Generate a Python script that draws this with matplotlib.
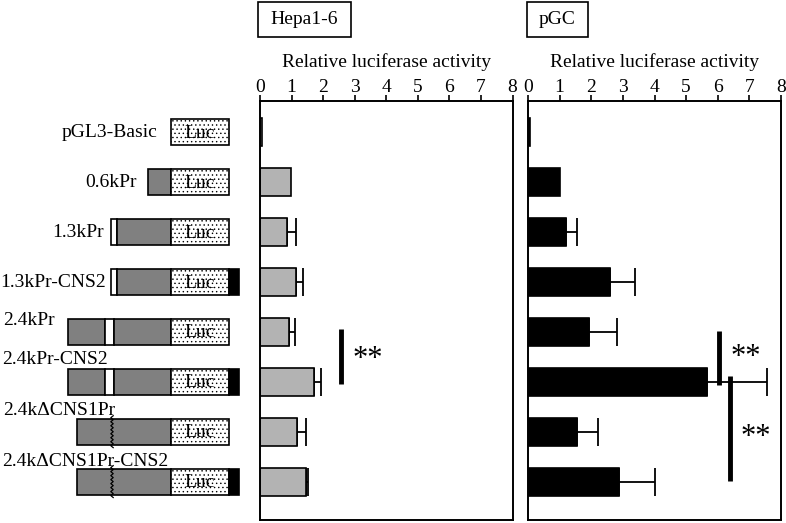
import numpy as np
import matplotlib
matplotlib.use("Agg")
import matplotlib.pyplot as plt
from matplotlib.patches import Rectangle

plt.rcParams['font.family'] = ['Liberation Serif', 'DejaVu Serif']
plt.rcParams['hatch.linewidth'] = 0.5
plt.rcParams['hatch.color'] = '#6a6a6a'

constructs = ["pGL3-Basic", "0.6kPr", "1.3kPr", "1.3kPr-CNS2", "2.4kPr",
              "2.4kPr-CNS2", "2.4kΔCNS1Pr", "2.4kΔCNS1Pr-CNS2"]
hepa_mean = [0.05, 0.98, 0.85, 1.13, 0.91, 1.70, 1.17, 1.46]
hepa_err = [0.0, 0.0, 0.29, 0.24, 0.20, 0.23, 0.29, 0.06]
pgc_mean = [0.07, 1.02, 1.20, 2.59, 1.93, 5.67, 1.55, 2.89]
pgc_err = [0.0, 0.0, 0.36, 0.80, 0.90, 1.88, 0.66, 1.13]
xticks = [0, 1, 2, 3, 4, 5, 6, 7, 8]
panel_titles = ["Hepa1-6", "pGC"]
axis_label = "Relative luciferase activity"

# construct diagrams (segment type, start, end) in diagram units
diagrams = [
    [("luc", 171, 229)],
    [("gray", 148, 171), ("luc", 171, 229)],
    [("white", 111, 117), ("gray", 117, 171), ("luc", 171, 229)],
    [("white", 111, 117), ("gray", 117, 171), ("luc", 171, 229), ("black", 229, 239)],
    [("gray", 68, 105), ("white", 105, 114), ("gray", 114, 171), ("luc", 171, 229)],
    [("gray", 68, 105), ("white", 105, 114), ("gray", 114, 171), ("luc", 171, 229), ("black", 229, 239)],
    [("gray", 77, 171), ("zig", 112, 112), ("luc", 171, 229)],
    [("gray", 77, 171), ("zig", 112, 112), ("luc", 171, 229), ("black", 229, 239)],
]
label_above = [False, False, False, False, True, True, True, True]
label_x = [158, 137, 104, 106, 3, 2, 3, 2]
label_dy = [0, 0, 0, 0, -0.22, -0.44, -0.42, -0.40]

W, H = 786, 523
fig = plt.figure(figsize=(W / 100, H / 100), dpi=100)

ytop_px, ybot_px = 101.5, 519.5
bottom = 1 - ybot_px / H
height = (ybot_px - ytop_px) / H
rows = np.arange(len(constructs))
ylim = (7.76, -0.62)

ax_d = fig.add_axes([0, bottom, 258 / W, height])
ax_h = fig.add_axes([260 / W, bottom, 252.5 / W, height])
ax_p = fig.add_axes([528 / W, bottom, 253 / W, height])

# diagram panel
ax_d.set_xlim(0, 258)
ax_d.set_ylim(*ylim)
ax_d.axis('off')
bh = 0.52
colors = {"gray": "#808080", "white": "white", "black": "black", "luc": "white"}
for i, segs in enumerate(diagrams):
    y = rows[i]
    for kind, a, b in segs:
        if kind == "zig":
            yy = np.linspace(y - bh / 2 - 0.06, y + bh / 2 + 0.06, 17)
            xx = a + np.array([(-1.2 if k % 2 else 1.2) for k in range(len(yy))])
            ax_d.plot(xx, yy, color='black', lw=0.9, zorder=4)
            continue
        r = Rectangle((a, y - bh / 2), b - a, bh, facecolor=colors[kind],
                      edgecolor='black', lw=1.2,
                      hatch='....' if kind == "luc" else None, zorder=2)
        ax_d.add_patch(r)
        if kind == "luc":
            ax_d.text((a + b) / 2, y + 0.02, "Luc", ha='center', va='center',
                      fontsize=14, zorder=5)
    if label_above[i]:
        ax_d.text(label_x[i], y + label_dy[i], constructs[i], ha='left',
                  va='center', fontsize=14)
    else:
        ax_d.text(label_x[i], y, constructs[i], ha='right', va='center',
                  fontsize=14)

def panel(ax, mean, err, color):
    ax.barh(rows, mean, height=0.56, color=color, edgecolor='black', lw=1.2, zorder=2)
    for i in rows:
        if err[i] > 0:
            ax.errorbar(mean[i], rows[i], xerr=[[0], [err[i]]], fmt='none',
                        ecolor='black', elinewidth=1.3, capsize=10, capthick=1.3,
                        zorder=1)
    ax.set_xlim(0, 8)
    ax.set_ylim(*ylim)
    ax.set_yticks([])
    ax.set_xticks(xticks)
    ax.xaxis.tick_top()
    ax.xaxis.set_label_position('top')
    ax.tick_params(axis='x', direction='out', length=4.3, width=1.2,
                   labelsize=14, pad=0)
    ax.set_xlabel(axis_label, fontsize=14, labelpad=8)
    for s in ax.spines.values():
        s.set_linewidth(1.4)

panel(ax_h, hepa_mean, hepa_err, "#b3b3b3")
panel(ax_p, pgc_mean, pgc_err, "black")

# significance markers
ax_h.plot([2.58, 2.58], [3.94, 5.04], color='black', lw=3.5, solid_capstyle='butt')
ax_h.text(3.4, 4.55, "**", ha='center', va='center', fontsize=22)
ax_p.plot([6.04, 6.04], [3.98, 5.06], color='black', lw=3.5, solid_capstyle='butt')
ax_p.text(6.9, 4.52, "**", ha='center', va='center', fontsize=22)
ax_p.plot([6.39, 6.39], [4.88, 6.98], color='black', lw=3.5, solid_capstyle='butt')
ax_p.text(7.2, 6.12, "**", ha='center', va='center', fontsize=22)

# title boxes
for (x0, x1), t in zip([(258, 351), (527, 588)], panel_titles):
    fig.add_artist(Rectangle((x0 / W, 1 - 37 / H), (x1 - x0) / W, 35 / H,
                             transform=fig.transFigure, facecolor='white',
                             edgecolor='black', lw=1.2))
    fig.text((x0 + x1) / 2 / W, 1 - 20 / H, t, ha='center', va='center', fontsize=14)

fig.savefig("out.png", dpi=100)
